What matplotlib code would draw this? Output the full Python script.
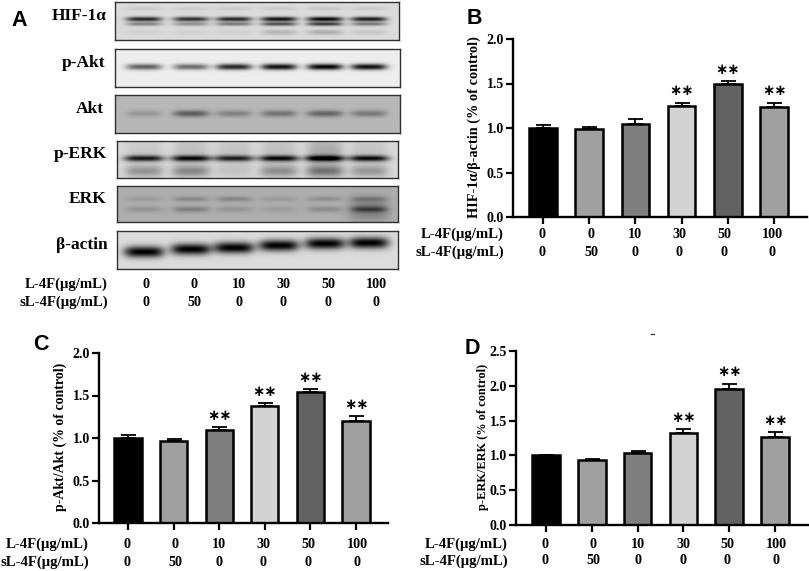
import numpy as np
import matplotlib
matplotlib.use("Agg")
import matplotlib.pyplot as plt

W, H = 809, 571

# --- data ---
groups_l4f = ["0", "0", "10", "30", "50", "100"]
groups_sl4f = ["0", "50", "0", "0", "0", "0"]
row_names = ["L-4F(μg/mL)", "sL-4F(μg/mL)"]

hif_mean = [1.00, 0.99, 1.05, 1.25, 1.50, 1.24]
hif_err = [0.035, 0.02, 0.05, 0.035, 0.03, 0.045]
hif_sig = ["", "", "", "**", "**", "**"]

akt_mean = [1.00, 0.96, 1.10, 1.38, 1.54, 1.20]
akt_err = [0.04, 0.03, 0.025, 0.03, 0.035, 0.055]
akt_sig = ["", "", "**", "**", "**", "**"]

erk_mean = [1.00, 0.93, 1.04, 1.32, 1.95, 1.27]
erk_err = [0.01, 0.015, 0.03, 0.055, 0.08, 0.065]
erk_sig = ["", "", "", "**", "**", "**"]

bar_colors = ["#000000", "#a0a0a0", "#7f7f7f", "#d3d3d3", "#626262", "#a0a0a0"]

# blot band strengths per lane
hif_main = [0.85, 0.80, 0.85, 0.95, 1.00, 0.90]
hif_lower = [0.40, 0.35, 0.45, 0.65, 0.75, 0.45]
hif_top = [0.08, 0.07, 0.08, 0.08, 0.10, 0.08]
hif_bottom = [0.06, 0.06, 0.06, 0.18, 0.22, 0.10]
pakt_band = [0.60, 0.55, 0.85, 0.95, 1.00, 0.95]
akt_band = [0.18, 0.50, 0.30, 0.38, 0.45, 0.35]
perk_main = [0.85, 0.90, 0.80, 0.90, 1.00, 0.90]
perk_lower = [0.30, 0.35, 0.08, 0.32, 0.42, 0.28]
perk_smear = [0.08, 0.12, 0.10, 0.12, 0.22, 0.10]
erk_upper = [0.12, 0.22, 0.24, 0.12, 0.18, 0.22]
erk_lower = [0.16, 0.28, 0.15, 0.10, 0.20, 0.42]
erk_blob = [0, 0, 0, 0, 0, 0.28]
actin_band = [1.00, 1.00, 1.00, 1.00, 1.00, 1.00]
actin_y = [0.55, 0.48, 0.44, 0.38, 0.33, 0.31]

plt.rcParams["font.family"] = ["Liberation Serif", "DejaVu Sans"]
plt.rcParams["font.weight"] = "bold"

fig = plt.figure(figsize=(W / 100, H / 100), dpi=100)


def px_axes(x0, ytop, x1, ybot):
    return fig.add_axes([x0 / W, 1 - ybot / H, (x1 - x0) / W, (ybot - ytop) / H])


def fig_text(x, y, s, **kw):
    kw.setdefault("va", "center")
    kw.setdefault("ha", "center")
    fig.text(x / W, 1 - y / H, s, **kw)


def dose_rows(xs, y1, y2, xright):
    for x, a, b in zip(xs, groups_l4f, groups_sl4f):
        fig_text(x, y1, a, fontsize=10.2)
        fig_text(x, y2, b, fontsize=10.2)
    fig_text(xright, y1, row_names[0], ha="right", fontsize=10.6)
    fig_text(xright, y2, row_names[1], ha="right", fontsize=10.6)


lanes = [144, 191, 234, 279, 325, 369]


def blot(x0, ytop, x1, ybot, bg, rows, name, name_x):
    # rows: (y fraction, y width, strengths, half width of lane)
    ax = px_axes(x0, ytop, x1, ybot)
    nx, ny = (x1 - x0) * 3, (ybot - ytop) * 3
    xx = np.linspace(x0, x1, nx)
    yy = np.linspace(0, 1, ny)
    X, Y = np.meshgrid(xx, yy)
    dark = np.zeros_like(X)
    for yc, sy, vals, hw in rows:
        ycs = yc if isinstance(yc, list) else [yc] * 6
        for lane, v, c in zip(lanes, vals, ycs):
            dark += v * np.exp(-((X - lane) / hw) ** 4) * np.exp(-((Y - c) / sy) ** 2)
    img = bg * (1 - np.clip(dark, 0, 1))
    ax.imshow(img, cmap="gray", vmin=0, vmax=1, aspect="auto", interpolation="bilinear",
              extent=(x0, x1, 1, 0))
    ax.set_xticks([])
    ax.set_yticks([])
    for s in ax.spines.values():
        s.set_linewidth(1.0)
        s.set_color("#303030")
    fig_text(name_x, (ytop + ybot) / 2 - 5, name, ha="right", fontsize=12.5)


blot(115, 2, 399, 40, 0.86,
     [(0.45, 0.06, hif_main, 18), (0.58, 0.05, hif_lower, 18),
      (0.17, 0.05, hif_top, 18), (0.80, 0.07, hif_bottom, 18)], "HIF-1α", 107)
blot(115, 49, 400, 87, 0.93, [(0.47, 0.08, pakt_band, 18)], "p-Akt", 105)
blot(115, 95, 400, 133, 0.72, [(0.49, 0.09, akt_band, 18)], "Akt", 104)
blot(117, 141, 398, 178, 0.85,
     [(0.47, 0.08, perk_main, 20), (0.82, 0.15, perk_lower, 19),
      (0.30, 0.45, perk_smear, 18)], "p-ERK", 107)
blot(117, 186, 398, 222, 0.68,
     [(0.36, 0.07, erk_upper, 18), (0.65, 0.08, erk_lower, 18),
      (0.65, 0.35, erk_blob, 20)], "ERK", 106)
blot(117, 231, 398, 269, 0.86, [(actin_y, 0.15, actin_band, 20)], "β-actin", 108)
dose_rows([146, 194, 239, 283, 328, 376], 284, 302, 108)


def bars(x0, ytop, x1, ybot, first, step, ymax, tick_step, means, errs, sig, ylabel, ylabel_x, label_fs):
    ax = px_axes(x0, ytop, x1, ybot)
    pos = np.arange(len(means))
    ax.set_xlim((x0 - first) / step, (x1 - first) / step)
    ax.set_ylim(0, ymax)
    ax.bar(pos, means, width=0.60, color=bar_colors, edgecolor="black", linewidth=1.8, zorder=2)
    ax.errorbar(pos, means, yerr=[np.zeros(len(errs)), errs], fmt="none", ecolor="black",
                elinewidth=1.3, capsize=5.4, capthick=1.3, zorder=1)
    for p, m, e, s in zip(pos, means, errs, sig):
        if s:
            ax.annotate("∗∗", (p, m + e), xytext=(0, 8.5), textcoords="offset points",
                        ha="center", va="center", fontsize=10.5, family="DejaVu Sans", fontweight="bold")
    ax.set_xticks(pos)
    ax.set_xticklabels([])
    ax.set_yticks(np.arange(0, ymax + 0.01, tick_step))
    ax.set_yticklabels(["%.1f" % t for t in np.arange(0, ymax + 0.01, tick_step)], fontsize=10)
    ax.tick_params(axis="both", width=1.6, length=5, pad=1.5)
    ax.patch.set_visible(False)
    for s in ["top", "right"]:
        ax.spines[s].set_visible(False)
    for s in ["left", "bottom"]:
        ax.spines[s].set_linewidth(1.7)
    fig_text(ylabel_x, (ytop + ybot) / 2 - 1, ylabel, rotation=90, fontsize=label_fs)


bars(513, 39, 807, 217, 543, 46.2, 2.0, 0.5, hif_mean, hif_err, hif_sig,
     "HIF-1α/β-actin (% of control)", 474, 10.3)
dose_rows([542, 591, 635, 679, 724, 772], 234, 252, 504)

bars(99, 353, 388, 523, 128, 45.6, 2.0, 0.5, akt_mean, akt_err, akt_sig,
     "p-Akt/Akt (% of control)", 60, 10.0)
dose_rows([127, 175, 219, 263, 308, 357], 544, 562, 89)

bars(516, 351, 808, 525, 546, 45.8, 2.5, 0.5, erk_mean, erk_err, erk_sig,
     "p-ERK/ERK (% of control)", 483, 8.9)
dose_rows([545, 593, 638, 683, 727, 776], 544, 561, 508)

# panel letters
for x, y, s in [(19, 21, "A"), (474, 19, "B"), (41, 344, "C"), (472, 348, "D")]:
    fig_text(x, y, s, fontsize=15.5, family="Liberation Sans", fontweight="bold")

# small stray mark above panel D
fig.add_artist(plt.Line2D([651 / W, 654 / W], [1 - 334 / H, 1 - 334 / H], color="#333333", lw=0.9))

fig.savefig("out.png", dpi=100)
